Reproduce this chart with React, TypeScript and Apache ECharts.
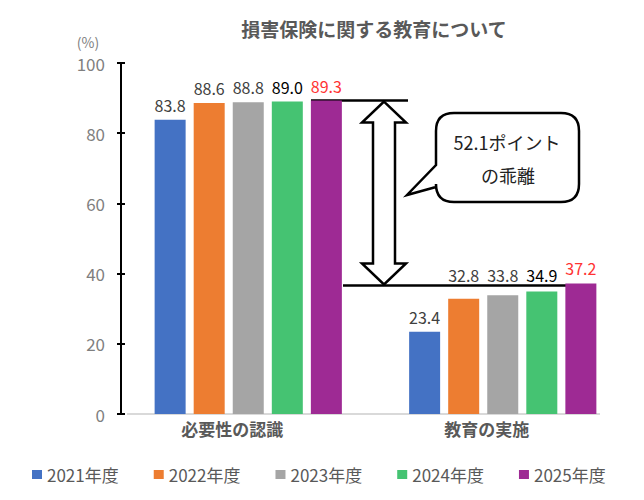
import { useEffect, useRef } from 'react';
import * as echarts from 'echarts';

const categories = ['必要性の認識', '教育の実施'];
const seriesNames = ['2021年度', '2022年度', '2023年度', '2024年度', '2025年度'];
const values2021 = [83.8, 23.4];
const values2022 = [88.6, 32.8];
const values2023 = [88.8, 33.8];
const values2024 = [89.0, 34.9];
const values2025 = [89.3, 37.2];
const colors = ['#4472C4', '#ED7D31', '#A5A5A5', '#45C372', '#9E2A94'];
const labelColors = ['#404040', '#404040', '#404040', '#000000', '#FF3333'];
const yTicks = [0, 20, 40, 60, 80, 100];
const gapNote = ['52.1ポイント', 'の乖離'];

const FONT = '"Noto Sans CJK JP", "Noto Sans", sans-serif';

// 吹き出しの形
const calloutPath =
  'M454 113 L561 113 Q579 113 579 131 L579 184 Q579 202 561 202 L454 202 Q436 202 436 184 ' +
  'L436 187 L407 195 L436 165 L436 131 Q436 113 454 113 Z';

const App = () => {
  const chartRef = useRef<HTMLDivElement>(null);

  useEffect(() => {
    if (!chartRef.current) return;
    echarts.graphic.registerShape('callout', echarts.graphic.extendPath(calloutPath, {}));
    const chart = echarts.init(chartRef.current, undefined, { renderer: 'svg' });

    const allValues = [values2021, values2022, values2023, values2024, values2025];
    const plotHeight = 351;
    const pxPerUnit = plotHeight / (yTicks[yTicks.length - 1] - yTicks[0]);
    // 教育の実施の2022～2024年度ラベルは同じ高さに揃える
    const alignedLevel = 35.3;

    chart.setOption({
      animation: false,
      textStyle: { fontFamily: FONT },
      grid: { left: 121, top: 63, width: 509, height: plotHeight },
      legend: {
        data: seriesNames,
        left: 27,
        top: 461,
        icon: 'rect',
        itemWidth: 10,
        itemHeight: 9,
        itemGap: 35,
        textStyle: { fontSize: 17, color: '#595959', fontFamily: FONT }
      },
      xAxis: {
        type: 'category',
        data: categories,
        axisLine: { show: false },
        axisTick: { show: false },
        axisLabel: {
          fontSize: 17,
          fontWeight: 'bold',
          color: '#595959',
          margin: 6,
          padding: [0, 32, 0, 0]
        }
      },
      yAxis: [
        {
          type: 'value',
          min: yTicks[0],
          max: yTicks[yTicks.length - 1],
          interval: 20,
          splitLine: { show: false },
          axisLine: { show: true, lineStyle: { color: '#000', width: 2 } },
          axisTick: { show: true, length: 4, lineStyle: { color: '#000', width: 2 } },
          axisLabel: { fontSize: 17, color: '#7F7F7F', margin: 16 }
        },
        {
          type: 'value',
          min: yTicks[0],
          max: yTicks[yTicks.length - 1],
          interval: 20,
          position: 'left',
          splitLine: { show: false },
          axisLine: { show: false },
          axisTick: { show: true, inside: true, length: 4, lineStyle: { color: '#000', width: 2 } },
          axisLabel: { show: false }
        }
      ],
      series: seriesNames.map((name, i) => ({
        name,
        type: 'bar',
        barWidth: 31,
        barGap: '26%',
        itemStyle: { color: colors[i] },
        label: {
          show: true,
          position: 'top',
          distance: 7,
          fontSize: 16,
          color: labelColors[i],
          formatter: (p: any) => Number(p.value).toFixed(1)
        },
        data: allValues[i].map((v, j) =>
          j === 1 && i >= 1 && i <= 3
            ? { value: v, label: { distance: 7 + (alignedLevel - v) * pxPerUnit } }
            : v
        )
      }))
    });

    const yTop = chart.convertToPixel({ yAxisIndex: 0 }, values2025[0]) as number;
    const yLow = (chart.convertToPixel({ yAxisIndex: 0 }, values2025[1]) as number) + 2;
    const yZero = chart.convertToPixel({ yAxisIndex: 0 }, 0) as number;

    const cx = 384;
    const headH = 21;
    const headW = 22;
    const shaftW = 11;
    const arrowPoints = [
      [cx, yTop + 1],
      [cx + headW, yTop + 1 + headH],
      [cx + shaftW, yTop + 1 + headH],
      [cx + shaftW, yLow - 1 - headH],
      [cx + headW, yLow - 1 - headH],
      [cx, yLow - 1],
      [cx - headW, yLow - 1 - headH],
      [cx - shaftW, yLow - 1 - headH],
      [cx - shaftW, yTop + 1 + headH],
      [cx - headW, yTop + 1 + headH]
    ];

    chart.setOption({
      graphic: [
        {
          type: 'text',
          x: 374,
          y: 28,
          style: {
            text: '損害保険に関する教育について',
            font: `bold 19px ${FONT}`,
            fill: '#595959',
            align: 'center',
            verticalAlign: 'middle'
          }
        },
        {
          type: 'text',
          x: 88,
          y: 42,
          style: {
            text: '(%)',
            font: `14px ${FONT}`,
            fill: '#7F7F7F',
            align: 'center',
            verticalAlign: 'middle'
          }
        },
        {
          type: 'line',
          shape: { x1: 127, y1: yZero, x2: 600, y2: yZero },
          style: { stroke: '#D9D9D9', lineWidth: 2 }
        },
        {
          type: 'line',
          shape: { x1: 311, y1: yTop, x2: 408, y2: yTop },
          style: { stroke: '#000', lineWidth: 2.5 }
        },
        {
          type: 'line',
          shape: { x1: 343, y1: yLow, x2: 568, y2: yLow },
          style: { stroke: '#000', lineWidth: 2.5 }
        },
        {
          type: 'polygon',
          shape: { points: arrowPoints },
          style: { fill: '#fff', stroke: '#000', lineWidth: 2.5 }
        },
        {
          type: 'callout',
          x: 0,
          y: 0,
          scaleX: 1,
          scaleY: 1,
          style: { fill: '#fff', stroke: '#000', lineWidth: 2.5 }
        },
        {
          type: 'text',
          x: 507,
          y: 142,
          style: {
            text: gapNote[0],
            font: `18px ${FONT}`,
            fill: '#222',
            align: 'center',
            verticalAlign: 'middle'
          }
        },
        {
          type: 'text',
          x: 508,
          y: 175,
          style: {
            text: gapNote[1],
            font: `18px ${FONT}`,
            fill: '#222',
            align: 'center',
            verticalAlign: 'middle'
          }
        }
      ]
    });

    return () => {
      chart.dispose();
    };
  }, []);

  return (
    <div
      ref={chartRef}
      style={{ position: 'fixed', left: 0, top: 0, width: '644px', height: '500px', background: '#fff' }}
    />
  );
};

export default App;
